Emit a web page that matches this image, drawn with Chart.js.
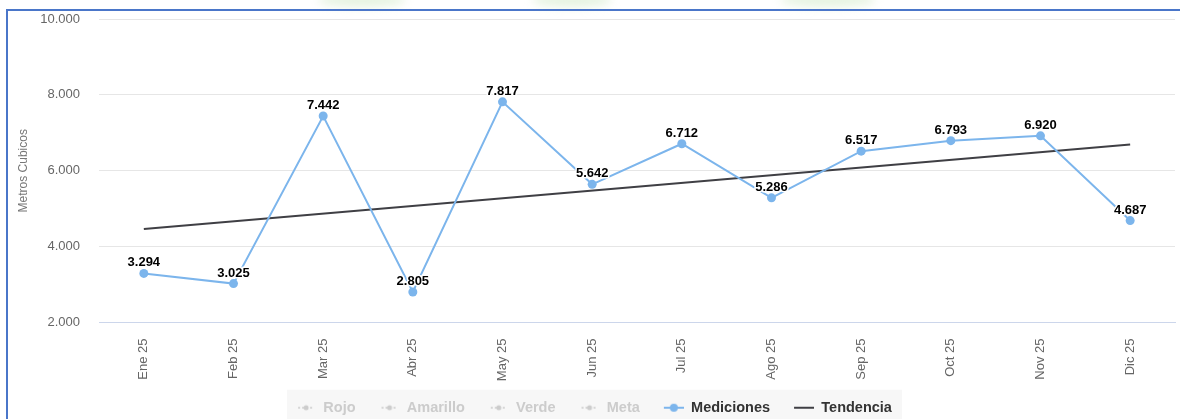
<!DOCTYPE html>
<html lang="es">
<head>
<meta charset="utf-8">
<title>Mediciones - Metros Cubicos</title>
<script src="https://cdn.jsdelivr.net/npm/chart.js@4.4.1/dist/chart.umd.min.js"></script>
<style>
  html, body { margin: 0; padding: 0; background: #fff; overflow: hidden; }
  body { width: 1180px; height: 419px; position: relative; }
  .glow { position: absolute; top: -7px; height: 14px; border-radius: 50%;
          background: rgba(212, 235, 204, 0.6); filter: blur(5px); }
  #panel { position: absolute; left: 6px; top: 9px; width: 1200px; height: 430px;
           border-left: 2px solid #4a76c9; border-top: 2px solid #4a76c9; }
  #wrap { position: absolute; left: 8px; top: 11px; width: 1172px; height: 414px; }
</style>
</head>
<body>
<div class="glow" style="left:318px;width:88px"></div>
<div class="glow" style="left:532px;width:80px"></div>
<div class="glow" style="left:780px;width:96px"></div>
<div id="panel"></div>
<div id="wrap"><canvas id="chart"></canvas></div>
<script>
// meses y mediciones
const meses = ['Ene 25', 'Feb 25', 'Mar 25', 'Abr 25', 'May 25', 'Jun 25',
               'Jul 25', 'Ago 25', 'Sep 25', 'Oct 25', 'Nov 25', 'Dic 25'];
const mediciones = [3294, 3025, 7442, 2805, 7817, 5642, 6712, 5286, 6517, 6793, 6920, 4687];
// tendencia: solo los extremos, la recta se traza entre ellos
const tendencia = [4465, null, null, null, null, null, null, null, null, null, null, 6690];
const yTicks = [2000, 4000, 6000, 8000, 10000];
const seriesOcultas = ['Rojo', 'Amarillo', 'Verde', 'Meta'];

const AZUL = '#7cb5ec';
const OSCURO = '#3f3f44';
const GRIS = '#cccccc';
const FUENTE = '"Liberation Sans", Arial, sans-serif';

function miles(v) {
  return String(Math.round(v)).replace(/\B(?=(\d{3})+(?!\d))/g, '.');
}

// iconos de la leyenda (30px de ancho, los 10 primeros vacios para separar items)
function icono(tipo, color) {
  const c = document.createElement('canvas');
  c.width = 30; c.height = 12;
  const g = c.getContext('2d');
  g.strokeStyle = color; g.fillStyle = color;
  if (tipo === 'oculto') {
    g.lineWidth = 1.5;
    g.setLineDash([2, 2]);
    g.beginPath(); g.moveTo(12, 6); g.lineTo(28, 6); g.stroke();
    g.beginPath(); g.arc(20, 6, 2.5, 0, Math.PI * 2); g.fill();
  } else if (tipo === 'punto') {
    g.lineWidth = 2;
    g.beginPath(); g.moveTo(10, 6); g.lineTo(30, 6); g.stroke();
    g.beginPath(); g.arc(20, 6, 4, 0, Math.PI * 2); g.fill();
  } else {
    g.lineWidth = 2;
    g.beginPath(); g.moveTo(10, 6); g.lineTo(30, 6); g.stroke();
  }
  return c;
}

// corre la leyenda un poco a la izquierda y le pone fondo gris claro
const fondoLeyenda = {
  id: 'fondoLeyenda',
  afterLayout(chart) {
    const lg = chart.legend;
    if (!lg) return;
    lg.left -= 5;
    lg.right -= 5;
  },
  beforeDraw(chart) {
    const lg = chart.legend;
    if (!lg || !lg.legendHitBoxes || !lg.legendHitBoxes.length) return;
    const hb = lg.legendHitBoxes;
    const first = hb[0], last = hb[hb.length - 1];
    const x0 = first.left + 1;
    const x1 = last.left + last.width + 10;
    const yc = first.top + first.height / 2;
    const ctx = chart.ctx;
    ctx.save();
    ctx.fillStyle = '#f7f7f7';
    ctx.fillRect(x0, yc - 18, x1 - x0, 40);
    ctx.restore();
  }
};

// etiquetas de valor sobre cada punto
const etiquetas = {
  id: 'etiquetas',
  afterDatasetsDraw(chart) {
    const ctx = chart.ctx;
    const meta = chart.getDatasetMeta(4);
    ctx.save();
    ctx.font = 'bold 13px ' + FUENTE;
    ctx.textAlign = 'center';
    ctx.textBaseline = 'alphabetic';
    ctx.lineJoin = 'round';
    meta.data.forEach((pt, i) => {
      const txt = miles(mediciones[i]);
      ctx.lineWidth = 3;
      ctx.strokeStyle = '#ffffff';
      ctx.strokeText(txt, pt.x, pt.y - 7);
      ctx.fillStyle = '#000000';
      ctx.fillText(txt, pt.x, pt.y - 7);
    });
    ctx.restore();
  }
};

const datasets = seriesOcultas.map(n => ({ label: n, data: [], hidden: true }));
datasets.push({
  label: 'Mediciones',
  data: mediciones,
  borderColor: AZUL,
  backgroundColor: AZUL,
  borderWidth: 2,
  pointRadius: 4.5,
  pointHoverRadius: 5,
  pointBorderWidth: 0,
  tension: 0,
  order: 1
});
datasets.push({
  label: 'Tendencia',
  data: tendencia,
  borderColor: OSCURO,
  backgroundColor: OSCURO,
  borderWidth: 2,
  pointRadius: 0,
  spanGaps: true,
  tension: 0,
  order: 2
});

const iconos = {
  Rojo: icono('oculto', GRIS), Amarillo: icono('oculto', GRIS),
  Verde: icono('oculto', GRIS), Meta: icono('oculto', GRIS),
  Mediciones: icono('punto', AZUL), Tendencia: icono('linea', OSCURO)
};

new Chart(document.getElementById('chart'), {
  type: 'line',
  data: { labels: meses, datasets: datasets },
  plugins: [fondoLeyenda, etiquetas],
  options: {
    responsive: true,
    maintainAspectRatio: false,
    animation: false,
    layout: { padding: { top: 8, left: 0, right: 0, bottom: 0 } },
    plugins: {
      tooltip: { enabled: false },
      legend: {
        position: 'bottom',
        labels: {
          usePointStyle: true,
          pointStyleWidth: 30,
          padding: 14,
          font: { family: FUENTE, size: 14.5, weight: 'bold' },
          generateLabels(chart) {
            return chart.data.datasets.map((ds, i) => ({
              text: ds.label,
              datasetIndex: i,
              hidden: false,
              fontColor: ds.hidden ? GRIS : '#333333',
              pointStyle: iconos[ds.label],
              lineWidth: 0,
              strokeStyle: 'transparent',
              fillStyle: 'transparent'
            }));
          }
        }
      }
    },
    scales: {
      x: {
        offset: true,
        grid: { display: false, drawTicks: false },
        border: { display: true, color: '#ccd6eb', width: 1 },
        ticks: {
          minRotation: 90,
          maxRotation: 90,
          padding: 16,
          color: '#666666',
          font: { family: FUENTE, size: 13 }
        },
        afterFit(s) { s.height = 64; }
      },
      y: {
        min: 2000,
        max: 10000,
        afterBuildTicks(s) { s.ticks = yTicks.map(v => ({ value: v })); },
        grid: {
          drawTicks: true,
          tickLength: 19,
          tickColor: 'transparent',
          color: c => c.tick && c.tick.value === 2000 ? '#ccd6eb' : '#e6e6e6',
          lineWidth: 1
        },
        border: { display: false },
        ticks: {
          padding: 0,
          color: '#666666',
          font: { family: FUENTE, size: 13 },
          callback: v => miles(v)
        },
        title: {
          display: true,
          text: 'Metros Cubicos',
          color: '#777777',
          padding: { top: 8, bottom: 0 },
          font: { family: FUENTE, size: 12 }
        },
        afterFit(s) { s.width = 91; }
      }
    }
  }
});
</script>
</body>
</html>
